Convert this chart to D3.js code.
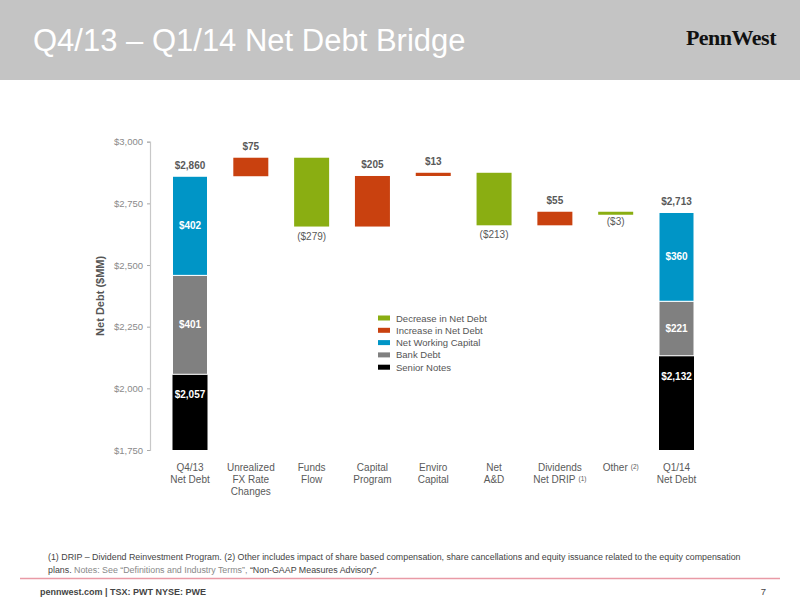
<!DOCTYPE html>
<html>
<head>
<meta charset="utf-8">
<script src="https://cdn.jsdelivr.net/npm/d3@7"></script>
<style>
  body { margin: 0; background: #fff; }
  svg text { font-family: "Liberation Sans", Arial, sans-serif; }
</style>
</head>
<body>
<div id="chart"></div>
<script>
// categories along the bridge
var categories = ["q4", "fx", "funds", "capital", "enviro", "ad", "dividends", "other", "q1"];
var categoryLines = [
    ["Q4/13", "Net Debt"],
    ["Unrealized", "FX Rate", "Changes"],
    ["Funds", "Flow"],
    ["Capital", "Program"],
    ["Enviro", "Capital"],
    ["Net", "A&D"],
    ["Dividends", "Net DRIP"],
    ["Other"],
    ["Q1/14", "Net Debt"]
];
var categoryNotes = [null, null, null, null, null, null, "(1)", "(2)", null];

// opening / closing net debt components ($MM)
var seniorNotes = [2057, 2132];
var bankDebt = [401, 221];
var netWorkingCapital = [402, 360];
var totals = ["$2,860", "$2,713"];

// movements between the two quarters ($MM)
var changes = [75, -279, 205, 13, -213, 55, -3];

var yTicks = [1750, 2000, 2250, 2500, 2750, 3000];

var legendItems = ["Decrease in Net Debt", "Increase in Net Debt", "Net Working Capital", "Bank Debt", "Senior Notes"];
var legendColors = ["#8aae12", "#c9410f", "#0095c6", "#808080", "#000000"];

var colors = { decrease: "#8aae12", increase: "#c9410f", nwc: "#0095c6", bank: "#808080", senior: "#000000" };

var width = 800, height = 600;
var svg = d3.select("#chart").append("svg")
    .attr("width", width)
    .attr("height", height);

// header band
svg.append("rect")
    .attr("x", 0).attr("y", 0)
    .attr("width", width).attr("height", 80)
    .attr("fill", "#c4c4c4");
svg.append("text")
    .attr("x", 33).attr("y", 51)
    .attr("fill", "#fff")
    .style("font-size", "31px")
    .text("Q4/13 \u2013 Q1/14 Net Debt Bridge");
svg.append("text")
    .attr("x", 776).attr("y", 45)
    .attr("text-anchor", "end")
    .attr("fill", "#111")
    .style("font-family", "'Liberation Serif', 'DejaVu Serif', serif")
    .style("font-weight", "bold")
    .style("font-size", "22px")
    .style("letter-spacing", "-0.5px")
    .text("PennWest");

var y = d3.scaleLinear()
    .domain([1750, 3000])
    .range([450, 141.7]);
var x = d3.scalePoint()
    .domain(categories)
    .range([190, 676.5]);
var barW = 35;

// y axis
var yAxis = d3.axisLeft(y)
    .tickValues(yTicks)
    .tickSize(3)
    .tickPadding(4)
    .tickFormat(function(d) { return "$" + d3.format(",")(d); });
var gy = svg.append("g")
    .attr("transform", "translate(150,0)")
    .call(yAxis);
gy.select(".domain").attr("stroke", "#c8c8c8").attr("stroke-width", 1.2);
gy.selectAll(".tick line").attr("stroke", "#aaa");
gy.selectAll(".tick text")
    .attr("fill", "#8a8a8a")
    .style("font-size", "9.5px");

svg.append("text")
    .attr("transform", "translate(104," + ((y(1750) + y(3000)) / 2) + ") rotate(-90)")
    .attr("text-anchor", "middle")
    .attr("fill", "#555")
    .style("font-weight", "bold")
    .style("font-size", "11px")
    .text("Net Debt ($MM)");

// stacked opening / closing bars
var ends = ["q4", "q1"];
ends.forEach(function(cat, i) {
    var segs = [
        { v: seniorNotes[i], c: colors.senior },
        { v: bankDebt[i], c: colors.bank },
        { v: netWorkingCapital[i], c: colors.nwc }
    ];
    var base = 0;
    segs.forEach(function(s, j) {
        var lo = Math.max(base, 1750), hi = base + s.v;
        svg.append("rect")
            .attr("x", x(cat) - barW / 2)
            .attr("y", y(hi))
            .attr("width", barW)
            .attr("height", y(lo) - y(hi))
            .attr("fill", s.c)
            .attr("stroke", "#fff")
            .attr("stroke-width", j == 0 ? 0 : 1);
        var ly = j == 0 ? y(hi) + 24 : (y(lo) + y(hi)) / 2 + 3;
        svg.append("text")
            .attr("x", x(cat))
            .attr("y", ly)
            .attr("text-anchor", "middle")
            .attr("fill", "#fff")
            .style("font-weight", "bold")
            .style("font-size", "10px")
            .text("$" + d3.format(",")(s.v));
        base = hi;
    });
    svg.append("text")
        .attr("x", x(cat))
        .attr("y", y(base) - 7)
        .attr("text-anchor", "middle")
        .attr("fill", "#595959")
        .style("font-weight", "bold")
        .style("font-size", "10px")
        .text(totals[i]);
});

// floating change bars
var running = seniorNotes[0] + bankDebt[0] + netWorkingCapital[0];
changes.forEach(function(c, i) {
    var cat = categories[i + 1];
    var from = running, to = running + c;
    var top = Math.max(from, to), bot = Math.min(from, to);
    svg.append("rect")
        .attr("x", x(cat) - barW / 2)
        .attr("y", y(top))
        .attr("width", barW)
        .attr("height", Math.max(y(bot) - y(top), 3))
        .attr("fill", c < 0 ? colors.decrease : colors.increase);
    svg.append("text")
        .attr("x", x(cat))
        .attr("y", c < 0 ? y(bot) + 13 : y(top) - 8)
        .attr("text-anchor", "middle")
        .attr("fill", "#595959")
        .style("font-weight", c < 0 ? "normal" : "bold")
        .style("font-size", "10px")
        .text(c < 0 ? "($" + (-c) + ")" : "$" + c);
    running = to;
});

// category labels
categories.forEach(function(cat, i) {
    var t = svg.append("text")
        .attr("text-anchor", "middle")
        .attr("fill", "#5a5a5a")
        .style("font-size", "10px");
    categoryLines[i].forEach(function(line, k) {
        var ts = t.append("tspan")
            .attr("x", x(cat))
            .attr("y", 471 + k * 12)
            .text(line);
        if (categoryNotes[i] && k == categoryLines[i].length - 1) {
            ts.append("tspan")
                .attr("dx", 3)
                .attr("dy", -2)
                .style("font-size", "6.5px")
                .text(categoryNotes[i]);
        }
    });
    if (categoryNotes[i]) t.attr("transform", "translate(5,0)");
});

// legend
var legend = svg.append("g").attr("transform", "translate(378,318)");
legendItems.forEach(function(d, i) {
    legend.append("rect")
        .attr("x", 0).attr("y", i * 12.3 - 2.5)
        .attr("width", 12).attr("height", 5)
        .attr("fill", legendColors[i]);
    legend.append("text")
        .attr("x", 18).attr("y", i * 12.3 + 3.5)
        .attr("fill", "#555")
        .style("font-size", "9.5px")
        .text(d);
});

// footnotes and footer
svg.append("text")
    .attr("x", 48).attr("y", 560)
    .attr("fill", "#444")
    .style("font-size", "8.85px")
    .text("(1) DRIP \u2013 Dividend Reinvestment Program. (2) Other includes impact of share based compensation, share cancellations and equity issuance related to the equity compensation");
var fn2 = svg.append("text")
    .attr("x", 48).attr("y", 572.5)
    .attr("fill", "#444")
    .style("font-size", "8.85px");
fn2.append("tspan").text("plans. ");
fn2.append("tspan").attr("fill", "#888").text("Notes: See \u201cDefinitions and Industry Terms\u201d, ");
fn2.append("tspan").text("\u201cNon-GAAP Measures Advisory\u201d.");

svg.append("line")
    .attr("x1", 20).attr("x2", 780)
    .attr("y1", 578.5).attr("y2", 578.5)
    .attr("stroke", "#e99aa6")
    .attr("stroke-width", 1.5);
svg.append("text")
    .attr("x", 40).attr("y", 595)
    .attr("fill", "#444")
    .style("font-weight", "bold")
    .style("font-size", "9px")
    .text("pennwest.com | TSX: PWT  NYSE: PWE");
svg.append("text")
    .attr("x", 766).attr("y", 595)
    .attr("text-anchor", "end")
    .attr("fill", "#444")
    .style("font-size", "9.5px")
    .text("7");
</script>
</body>
</html>
